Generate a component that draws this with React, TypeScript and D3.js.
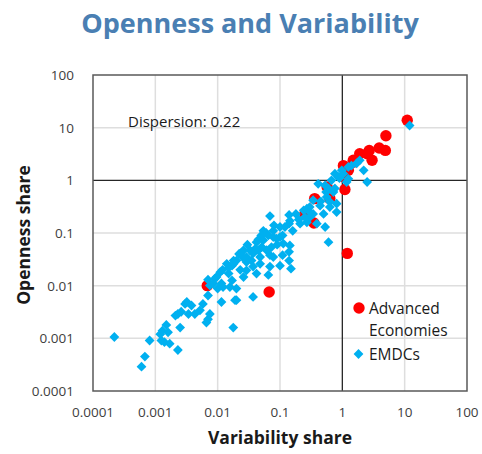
import React, { useEffect, useRef } from "react";
import * as d3 from "d3";

// tick values and labels (both axes use the same decades)
const tickValues = [0.0001, 0.001, 0.01, 0.1, 1, 10, 100];
const tickLabels = ["0.0001", "0.001", "0.01", "0.1", "1", "10", "100"];

// Advanced Economies: [variability share, openness share]
const advancedVar = [11, 5.0, 2.7, 3.9, 4.9, 3.0, 2.5, 1.04, 1.5, 1.25, 1.1, 0.57, 0.63, 0.36, 0.25, 0.35, 1.2, 0.067, 0.0068, 1.06, 1.9, 1.5];
const advancedOpen = [13.8, 7.0, 3.7, 4.1, 3.7, 2.4, 3.2, 1.9, 2.2, 1.55, 0.67, 0.75, 0.45, 0.45, 0.23, 0.155, 0.041, 0.0076, 0.01, 1.16, 3.2, 2.4];

// EMDCs
const emdcVar = [
  12, 2.5, 1.9, 1.7, 1.4, 1.25, 2.2, 0.76, 0.86, 1.17, 1.25, 0.41, 0.76, 0.72, 0.34, 0.56, 0.3, 0.63, 0.44, 0.5,
  0.27, 0.14, 0.069, 0.18, 0.39, 0.53, 0.6, 0.27, 0.14, 0.1, 0.078, 0.065, 0.088, 0.054, 0.042, 0.051, 0.033, 0.073, 0.14, 0.11,
  0.069, 0.048, 0.023, 0.02, 0.029, 0.14, 0.1, 0.069, 0.017, 0.078, 0.026, 0.061, 0.014, 0.011, 0.023, 0.042, 0.065, 0.009, 0.017, 0.0075,
  0.0122, 0.02, 0.007, 0.037, 0.02, 0.0115, 0.0058, 0.0032, 0.0026, 0.0021, 0.0043, 0.0075, 0.003, 0.0038, 0.0023, 0.0034, 0.0066, 0.0025, 0.0015, 0.0013,
  0.0012, 0.0016, 0.0014, 0.0017, 0.00125, 0.00081, 0.00022, 0.0023, 0.00068, 0.0006, 0.0178, 0.019, 0.81, 0.81, 0.3, 0.21, 0.144, 0.1, 0.054, 0.045,
  0.037, 0.029, 0.018, 0.015, 0.0096, 0.01, 0.0115, 0.029, 0.037, 0.048, 0.078, 0.15, 0.026, 0.0157, 0.144, 0.113, 0.0052, 0.007, 0.16, 0.24,
  0.34, 0.63, 0.98, 1.04, 0.53, 0.67, 0.03, 0.05, 0.06, 0.04, 0.025, 0.015, 0.012, 0.035, 0.09, 0.11, 0.2, 0.3, 0.45, 0.55, 0.6, 0.9,
  0.08, 0.018, 0.007, 0.0085, 0.045, 0.022, 0.12, 0.25,
];
const emdcOpen = [
  11, 0.93, 2.4, 2.1, 1.9, 1.8, 1.55, 1.34, 1.16, 0.93, 1.07, 0.86, 0.7, 0.6, 0.42, 0.48, 0.31, 0.31, 0.33, 0.23,
  0.29, 0.22, 0.21, 0.23, 0.15, 0.13, 0.067, 0.16, 0.15, 0.13, 0.11, 0.09, 0.078, 0.073, 0.067, 0.054, 0.047, 0.054, 0.044, 0.038,
  0.038, 0.035, 0.041, 0.03, 0.028, 0.03, 0.024, 0.023, 0.024, 0.084, 0.047, 0.047, 0.026, 0.018, 0.02, 0.017, 0.016, 0.0136, 0.0126, 0.0101,
  0.0094, 0.0088, 0.0065, 0.0061, 0.0053, 0.0049, 0.0045, 0.0049, 0.0032, 0.0027, 0.0029, 0.0029, 0.0045, 0.0042, 0.0029, 0.0029, 0.002, 0.0016, 0.0018, 0.0014,
  0.0012, 0.0013, 0.00085, 0.00079, 0.00091, 0.00091, 0.00106, 0.0006, 0.00045, 0.00029, 0.0016, 0.0053, 0.36, 0.25, 0.2, 0.15, 0.17, 0.084, 0.11, 0.047,
  0.041, 0.035, 0.026, 0.017, 0.0146, 0.0088, 0.011, 0.0196, 0.023, 0.026, 0.035, 0.021, 0.0146, 0.0094, 0.058, 0.063, 0.0034, 0.0023, 0.11, 0.27,
  0.23, 0.39, 1.55, 1.34, 0.8, 1.0, 0.06, 0.09, 0.1, 0.05, 0.035, 0.022, 0.02, 0.03, 0.06, 0.09, 0.18, 0.25, 0.4, 0.6, 0.7, 1.1,
  0.14, 0.03, 0.013, 0.011, 0.075, 0.04, 0.13, 0.2,
];

const FONT = "'Open Sans', 'Noto Sans', sans-serif";

export default function App() {
  const ref = useRef<SVGSVGElement>(null);

  useEffect(() => {
    const svg = d3.select(ref.current);
    svg.selectAll("*").remove();

    const left = 93, right = 467, top = 75, bottom = 391;

    const x = d3.scaleLog().domain([0.0001, 100]).range([left, right]);
    const y = d3.scaleLog().domain([0.0001, 100]).range([bottom, top]);

    // title
    svg
      .append("text")
      .attr("x", 250)
      .attr("y", 33)
      .attr("text-anchor", "middle")
      .style("font-family", FONT)
      .style("font-weight", "bold")
      .style("font-size", "27px")
      .style("fill", "#4a7fb3")
      .text("Openness and Variability");

    // gridlines
    const inner = tickValues.filter((d) => d !== 1 && d !== 0.0001 && d !== 100);
    const grid = svg.append("g");
    grid
      .selectAll(".vgrid")
      .data(inner)
      .join("line")
      .attr("x1", (d) => x(d))
      .attr("x2", (d) => x(d))
      .attr("y1", top)
      .attr("y2", bottom)
      .style("stroke", "#dedede")
      .style("stroke-width", 1.5);
    grid
      .selectAll(".hgrid")
      .data(inner)
      .join("line")
      .attr("x1", left)
      .attr("x2", right)
      .attr("y1", (d) => y(d))
      .attr("y2", (d) => y(d))
      .style("stroke", "#dedede")
      .style("stroke-width", 1.5);

    // reference lines at 1
    svg
      .append("line")
      .attr("x1", x(1))
      .attr("x2", x(1))
      .attr("y1", top)
      .attr("y2", bottom)
      .style("stroke", "#262626")
      .style("stroke-width", 1.3);
    svg
      .append("line")
      .attr("x1", left)
      .attr("x2", right)
      .attr("y1", y(1))
      .attr("y2", y(1))
      .style("stroke", "#262626")
      .style("stroke-width", 1.3);

    // plot border
    svg
      .append("rect")
      .attr("x", left)
      .attr("y", top)
      .attr("width", right - left)
      .attr("height", bottom - top)
      .style("fill", "none")
      .style("stroke", "#595959")
      .style("stroke-width", 1.5);

    // tick labels
    svg
      .selectAll(".xtick")
      .data(tickValues)
      .join("text")
      .attr("x", (d) => x(d))
      .attr("y", 417)
      .attr("text-anchor", "middle")
      .style("font-family", FONT)
      .style("font-size", "13.5px")
      .style("fill", "#404040")
      .text((d, i) => tickLabels[i]);
    svg
      .selectAll(".ytick")
      .data(tickValues)
      .join("text")
      .attr("x", 74)
      .attr("y", (d) => y(d) + 5)
      .attr("text-anchor", "end")
      .style("font-family", FONT)
      .style("font-size", "13.5px")
      .style("fill", "#404040")
      .text((d, i) => tickLabels[i]);

    // axis titles
    svg
      .append("text")
      .attr("x", 280)
      .attr("y", 444)
      .attr("text-anchor", "middle")
      .style("font-family", FONT)
      .style("font-weight", "bold")
      .style("font-size", "17.5px")
      .style("fill", "#1a1a1a")
      .text("Variability share");
    svg
      .append("text")
      .attr("transform", "translate(30,235) rotate(-90)")
      .attr("text-anchor", "middle")
      .style("font-family", FONT)
      .style("font-weight", "bold")
      .style("font-size", "17.5px")
      .style("fill", "#1a1a1a")
      .text("Openness share");

    // annotation
    svg
      .append("text")
      .attr("x", 128)
      .attr("y", 127)
      .style("font-family", FONT)
      .style("font-size", "15px")
      .style("fill", "#1a1a1a")
      .text("Dispersion: 0.22");

    // Advanced Economies (red circles)
    svg
      .append("g")
      .selectAll("circle")
      .data(advancedVar.map((v, i) => [v, advancedOpen[i]]))
      .join("circle")
      .attr("cx", (d) => x(d[0]))
      .attr("cy", (d) => y(d[1]))
      .attr("r", 5.7)
      .style("fill", "#ff0000");

    // EMDCs (blue diamonds)
    const diamond = d3.symbol().type(d3.symbolSquare).size(48);
    svg
      .append("g")
      .selectAll("path")
      .data(emdcVar.map((v, i) => [v, emdcOpen[i]]))
      .join("path")
      .attr("d", diamond)
      .attr("transform", (d) => `translate(${x(d[0])},${y(d[1])}) rotate(45)`)
      .style("fill", "#00b0f0");

    // legend
    const lg = svg.append("g");
    lg.append("circle").attr("cx", 359).attr("cy", 308).attr("r", 5.7).style("fill", "#ff0000");
    lg.append("path")
      .attr("d", diamond)
      .attr("transform", "translate(358.5,354) rotate(45)")
      .style("fill", "#00b0f0");
    const legendText = [
      ["Advanced", 313.5],
      ["Economies", 336],
      ["EMDCs", 359.5],
    ];
    lg.selectAll("text")
      .data(legendText)
      .join("text")
      .attr("x", 369)
      .attr("y", (d) => d[1] as number)
      .style("font-family", FONT)
      .style("font-size", "15.5px")
      .style("fill", "#1a1a1a")
      .text((d) => d[0] as string);
  }, []);

  return (
    <svg
      ref={ref}
      width={482}
      height={454}
      style={{ position: "absolute", left: 0, top: 0, background: "#fff" }}
    />
  );
}
